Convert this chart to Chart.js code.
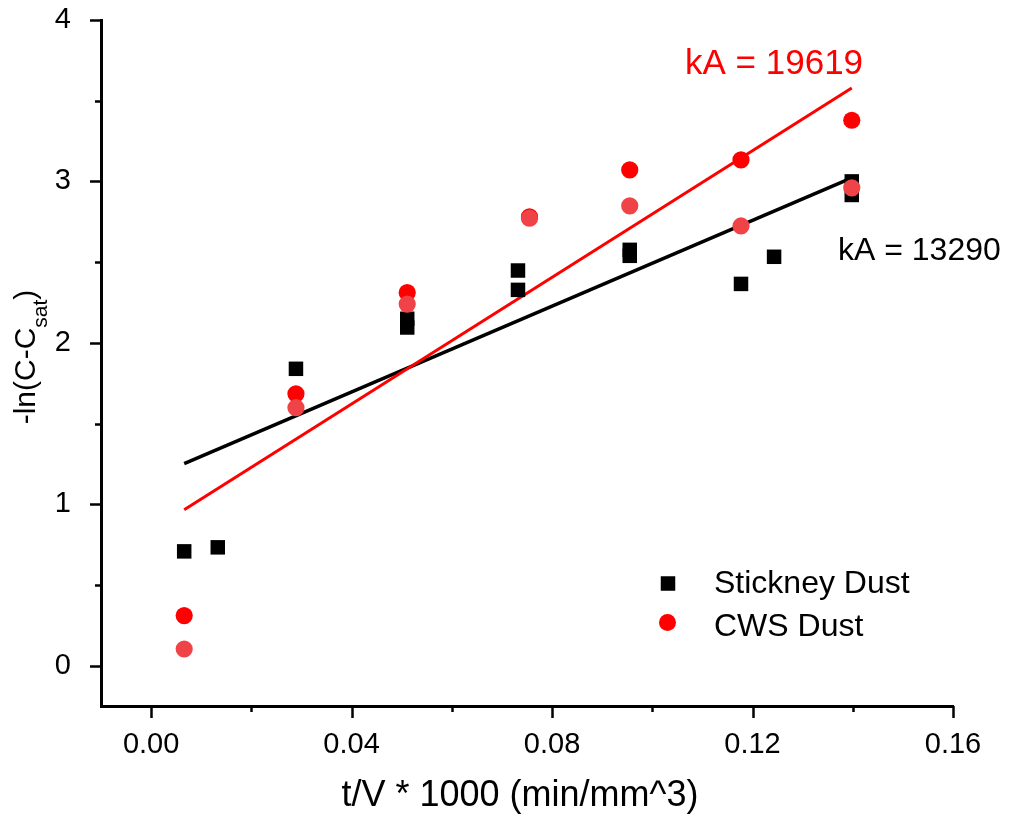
<!DOCTYPE html>
<html><head><meta charset="utf-8">
<script src="https://cdn.jsdelivr.net/npm/chart.js@4.4.0/dist/chart.umd.min.js"></script>
<style>html,body{margin:0;padding:0;background:#fff}</style>
</head><body>
<canvas id="c" width="1026" height="817"></canvas>
<script>
// ---- data ----
const stickneyX = [0.0066, 0.0133, 0.0289, 0.0511, 0.0511, 0.0732, 0.0732, 0.0955, 0.0955, 0.1177, 0.1243, 0.1398, 0.1398];
const stickneyY = [0.708, 0.733, 1.839, 2.149, 2.095, 2.448, 2.328, 2.576, 2.539, 2.365, 2.533, 3.000, 2.916];
const cwsX = [0.0066, 0.0289, 0.0511, 0.0755, 0.0955, 0.1177, 0.1398];
const cwsRun1Y = [0.310, 1.684, 2.311, 2.780, 3.071, 3.133, 3.379];
const cwsRun2Y = [0.103, 1.598, 2.240, 2.772, 2.848, 2.724, 2.960];
const fitX = [0.0066, 0.1398];
const stickneyFitY = [1.251, 3.022];
const cwsFitY = [0.966, 3.579];
const xTicks = [0.00, 0.02, 0.04, 0.06, 0.08, 0.10, 0.12, 0.14, 0.16];
const xLabels = ['0.00', '', '0.04', '', '0.08', '', '0.12', '', '0.16'];
const yTicks = [0, 0.5, 1, 1.5, 2, 2.5, 3, 3.5, 4];
const yLabels = ['0', '', '1', '', '2', '', '3', '', '4'];
const seriesNames = ['Stickney Dust', 'CWS Dust'];
const fitLabels = ['kA = 13290', 'kA = 19619'];

const FONT = '"Liberation Sans", Arial, Helvetica, sans-serif';
const BLACK = '#000000', RED = '#ff0000', LIGHTRED = '#f04347';

const pts = (xs, ys) => xs.map((x, i) => ({x: x, y: ys[i]}));
const noPad = s => { s.paddingTop = 0; s.paddingBottom = 0; s.paddingLeft = 0; s.paddingRight = 0; };

const extras = {
  id: 'extras',
  afterDraw(chart) {
    const ctx = chart.ctx, xs = chart.scales.x, ys = chart.scales.y, ca = chart.chartArea;
    ctx.save();
    // tick marks (outward)
    ctx.strokeStyle = '#000'; ctx.lineWidth = 2.5;
    xTicks.forEach((v, i) => {
      const p = Math.round(xs.getPixelForValue(v)) + 0.5;
      const len = xLabels[i] ? 12 : 6;
      ctx.beginPath(); ctx.moveTo(p, ca.bottom); ctx.lineTo(p, ca.bottom + len); ctx.stroke();
    });
    yTicks.forEach((v, i) => {
      const p = Math.round(ys.getPixelForValue(v)) + 0.5;
      const len = yLabels[i] ? 11 : 6;
      ctx.beginPath(); ctx.moveTo(ca.left, p); ctx.lineTo(ca.left - len, p); ctx.stroke();
    });
    // fit annotations
    ctx.textAlign = 'left'; ctx.textBaseline = 'alphabetic';
    ctx.font = '35px ' + FONT;
    ctx.fillStyle = RED;
    ctx.fillText(fitLabels[1], 685, 74);
    ctx.font = '32px ' + FONT;
    ctx.fillStyle = BLACK;
    ctx.fillText(fitLabels[0], 838, 260);
    // legend
    ctx.fillStyle = BLACK;
    ctx.fillRect(668 - 7.25, 583.5 - 7.25, 14.5, 14.5);
    ctx.fillStyle = RED;
    ctx.beginPath(); ctx.arc(667.5, 622.5, 8.5, 0, Math.PI * 2); ctx.fill();
    ctx.fillStyle = BLACK;
    ctx.font = '32px ' + FONT;
    ctx.fillText(seriesNames[0], 714, 593);
    ctx.fillText(seriesNames[1], 714, 636);
    // x axis title
    ctx.textAlign = 'center';
    ctx.font = '36px ' + FONT;
    ctx.fillText('t/V * 1000 (min/mm^3)', 520, 806);
    // y axis title with subscript
    ctx.translate(35, 357);
    ctx.rotate(-Math.PI / 2);
    const mainF = '30px ' + FONT, subF = '21px ' + FONT;
    ctx.font = mainF; const w1 = ctx.measureText('-ln(C-C').width; const w3 = ctx.measureText(')').width;
    ctx.font = subF; const w2 = ctx.measureText('sat').width;
    let x0 = -(w1 + w2 + w3) / 2;
    ctx.textAlign = 'left';
    ctx.font = mainF; ctx.fillText('-ln(C-C', x0, 0);
    ctx.font = subF; ctx.fillText('sat', x0 + w1, 12);
    ctx.font = mainF; ctx.fillText(')', x0 + w1 + w2, 0);
    ctx.restore();
  }
};

new Chart(document.getElementById('c'), {
  type: 'scatter',
  data: {
    datasets: [
      {label: 'CWS Dust (2)', data: pts(cwsX, cwsRun2Y), pointStyle: 'circle', pointRadius: 8.6, pointHoverRadius: 8.6,
       backgroundColor: LIGHTRED, borderWidth: 0, showLine: false, order: 0},
      {label: seriesNames[1], data: pts(cwsX, cwsRun1Y), pointStyle: 'circle', pointRadius: 8.6, pointHoverRadius: 8.6,
       backgroundColor: RED, borderWidth: 0, showLine: false, order: 1},
      {label: seriesNames[0], data: pts(stickneyX, stickneyY), pointStyle: 'rect', pointRadius: 10.25, pointHoverRadius: 10.25,
       backgroundColor: BLACK, borderWidth: 0, showLine: false, order: 2},
      {label: 'CWS fit', data: pts(fitX, cwsFitY), showLine: true, pointRadius: 0, borderColor: RED, borderWidth: 3,
       fill: false, order: 3},
      {label: 'Stickney fit', data: pts(fitX, stickneyFitY), showLine: true, pointRadius: 0, borderColor: BLACK, borderWidth: 3.5,
       fill: false, order: 4}
    ]
  },
  options: {
    responsive: false, animation: false, devicePixelRatio: 1,
    layout: {padding: {top: 20, right: 73, left: 0, bottom: 0}},
    plugins: {legend: {display: false}, tooltip: {enabled: false}, title: {display: false}},
    scales: {
      x: {
        type: 'linear', min: -0.01, max: 0.16,
        afterBuildTicks: s => { s.ticks = xTicks.map(v => ({value: v})); },
        afterFit: s => { s.height = 111; noPad(s); },
        ticks: {callback: (v, i) => xLabels[i], font: {family: FONT, size: 29}, color: '#000', padding: 14,
                maxRotation: 0, autoSkip: false},
        grid: {display: false},
        border: {display: true, color: '#000', width: 3}
      },
      y: {
        type: 'linear', min: -0.25, max: 4,
        afterBuildTicks: s => { s.ticks = yTicks.map(v => ({value: v})); },
        afterFit: s => { s.width = 101; noPad(s); },
        ticks: {callback: (v, i) => yLabels[i], font: {family: FONT, size: 29}, color: '#000', padding: 22,
                autoSkip: false},
        grid: {display: false},
        border: {display: true, color: '#000', width: 3}
      }
    }
  },
  plugins: [extras]
});
</script>
</body></html>
